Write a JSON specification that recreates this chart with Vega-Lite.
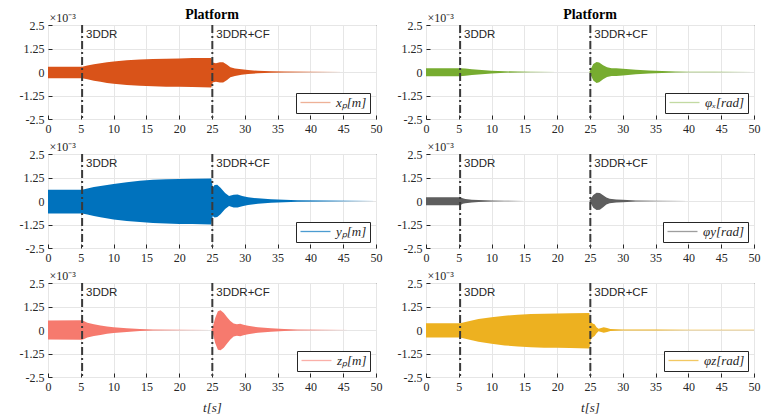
{
  "$schema": "https://vega.github.io/schema/vega-lite/v6.json",
  "background": "white",
  "padding": {"left": 18, "top": 7, "right": 5, "bottom": 0},
  "bounds": "flush",
  "columns": 2,
  "spacing": {"row": 35, "column": 50},
  "resolve": {"scale": {"color": "independent"}, "legend": {"color": "independent"}},
  "datasets": {
    "env": [
      {"p": "xp", "t": 0, "hi": 0.28, "lo": -0.33},
      {"p": "xp", "t": 5.2, "hi": 0.28, "lo": -0.33},
      {"p": "xp", "t": 6, "hi": 0.34, "lo": -0.39},
      {"p": "xp", "t": 7, "hi": 0.41, "lo": -0.46},
      {"p": "xp", "t": 8, "hi": 0.47, "lo": -0.52},
      {"p": "xp", "t": 9, "hi": 0.52, "lo": -0.58},
      {"p": "xp", "t": 10, "hi": 0.56, "lo": -0.62},
      {"p": "xp", "t": 12, "hi": 0.62, "lo": -0.69},
      {"p": "xp", "t": 14, "hi": 0.66, "lo": -0.73},
      {"p": "xp", "t": 16, "hi": 0.69, "lo": -0.76},
      {"p": "xp", "t": 18, "hi": 0.71, "lo": -0.78},
      {"p": "xp", "t": 20, "hi": 0.72, "lo": -0.79},
      {"p": "xp", "t": 22, "hi": 0.74, "lo": -0.8},
      {"p": "xp", "t": 24.9, "hi": 0.75, "lo": -0.82},
      {"p": "xp", "t": 25.1, "hi": 0.5, "lo": -0.56},
      {"p": "xp", "t": 25.6, "hi": 0.47, "lo": -0.52},
      {"p": "xp", "t": 26.2, "hi": 0.52, "lo": -0.56},
      {"p": "xp", "t": 26.7, "hi": 0.52, "lo": -0.56},
      {"p": "xp", "t": 27.3, "hi": 0.38, "lo": -0.42},
      {"p": "xp", "t": 27.8, "hi": 0.25, "lo": -0.28},
      {"p": "xp", "t": 28.5, "hi": 0.19, "lo": -0.21},
      {"p": "xp", "t": 29.5, "hi": 0.14, "lo": -0.15},
      {"p": "xp", "t": 30.5, "hi": 0.1, "lo": -0.11},
      {"p": "xp", "t": 32, "hi": 0.065, "lo": -0.07},
      {"p": "xp", "t": 34, "hi": 0.035, "lo": -0.04},
      {"p": "xp", "t": 36, "hi": 0.02, "lo": -0.022},
      {"p": "xp", "t": 40, "hi": 0.01, "lo": -0.01},
      {"p": "xp", "t": 45, "hi": 0.005, "lo": -0.005},
      {"p": "xp", "t": 50, "hi": 0.003, "lo": -0.003},

      {"p": "yp", "t": 0, "hi": 0.6, "lo": -0.66},
      {"p": "yp", "t": 5.2, "hi": 0.6, "lo": -0.66},
      {"p": "yp", "t": 6, "hi": 0.66, "lo": -0.72},
      {"p": "yp", "t": 7, "hi": 0.74, "lo": -0.8},
      {"p": "yp", "t": 8, "hi": 0.8, "lo": -0.87},
      {"p": "yp", "t": 10, "hi": 0.9, "lo": -0.98},
      {"p": "yp", "t": 12, "hi": 1.0, "lo": -1.06},
      {"p": "yp", "t": 14, "hi": 1.08, "lo": -1.12},
      {"p": "yp", "t": 16, "hi": 1.13, "lo": -1.17},
      {"p": "yp", "t": 18, "hi": 1.16, "lo": -1.2},
      {"p": "yp", "t": 20, "hi": 1.17, "lo": -1.22},
      {"p": "yp", "t": 22, "hi": 1.19, "lo": -1.23},
      {"p": "yp", "t": 24.9, "hi": 1.2, "lo": -1.25},
      {"p": "yp", "t": 25.1, "hi": 0.7, "lo": -0.8},
      {"p": "yp", "t": 25.4, "hi": 0.85, "lo": -0.88},
      {"p": "yp", "t": 25.8, "hi": 0.86, "lo": -0.85},
      {"p": "yp", "t": 26.3, "hi": 0.7, "lo": -0.7},
      {"p": "yp", "t": 27, "hi": 0.42, "lo": -0.42},
      {"p": "yp", "t": 27.6, "hi": 0.26, "lo": -0.27},
      {"p": "yp", "t": 28.3, "hi": 0.33, "lo": -0.34},
      {"p": "yp", "t": 28.9, "hi": 0.35, "lo": -0.35},
      {"p": "yp", "t": 29.6, "hi": 0.27, "lo": -0.28},
      {"p": "yp", "t": 30.5, "hi": 0.2, "lo": -0.21},
      {"p": "yp", "t": 32, "hi": 0.14, "lo": -0.15},
      {"p": "yp", "t": 34, "hi": 0.09, "lo": -0.09},
      {"p": "yp", "t": 36, "hi": 0.06, "lo": -0.06},
      {"p": "yp", "t": 38, "hi": 0.04, "lo": -0.04},
      {"p": "yp", "t": 42, "hi": 0.02, "lo": -0.02},
      {"p": "yp", "t": 46, "hi": 0.01, "lo": -0.01},
      {"p": "yp", "t": 50, "hi": 0.005, "lo": -0.005},

      {"p": "zp", "t": 0, "hi": 0.5, "lo": -0.5},
      {"p": "zp", "t": 5.2, "hi": 0.52, "lo": -0.52},
      {"p": "zp", "t": 5.6, "hi": 0.45, "lo": -0.46},
      {"p": "zp", "t": 6, "hi": 0.38, "lo": -0.4},
      {"p": "zp", "t": 7, "hi": 0.3, "lo": -0.32},
      {"p": "zp", "t": 8, "hi": 0.24, "lo": -0.26},
      {"p": "zp", "t": 9, "hi": 0.19, "lo": -0.2},
      {"p": "zp", "t": 10, "hi": 0.15, "lo": -0.16},
      {"p": "zp", "t": 12, "hi": 0.09, "lo": -0.1},
      {"p": "zp", "t": 14, "hi": 0.05, "lo": -0.055},
      {"p": "zp", "t": 16, "hi": 0.03, "lo": -0.03},
      {"p": "zp", "t": 20, "hi": 0.012, "lo": -0.012},
      {"p": "zp", "t": 24.9, "hi": 0.005, "lo": -0.005},
      {"p": "zp", "t": 25.1, "hi": 0.15, "lo": -0.15},
      {"p": "zp", "t": 25.5, "hi": 0.65, "lo": -0.7},
      {"p": "zp", "t": 25.9, "hi": 1.0, "lo": -1.05},
      {"p": "zp", "t": 26.3, "hi": 1.05, "lo": -1.08},
      {"p": "zp", "t": 26.8, "hi": 0.9, "lo": -0.95},
      {"p": "zp", "t": 27.3, "hi": 0.68, "lo": -0.72},
      {"p": "zp", "t": 27.8, "hi": 0.48, "lo": -0.5},
      {"p": "zp", "t": 28.3, "hi": 0.34, "lo": -0.35},
      {"p": "zp", "t": 28.8, "hi": 0.3, "lo": -0.3},
      {"p": "zp", "t": 29.3, "hi": 0.33, "lo": -0.33},
      {"p": "zp", "t": 29.8, "hi": 0.28, "lo": -0.28},
      {"p": "zp", "t": 30.5, "hi": 0.22, "lo": -0.22},
      {"p": "zp", "t": 32, "hi": 0.15, "lo": -0.15},
      {"p": "zp", "t": 34, "hi": 0.09, "lo": -0.09},
      {"p": "zp", "t": 36, "hi": 0.05, "lo": -0.05},
      {"p": "zp", "t": 38, "hi": 0.03, "lo": -0.03},
      {"p": "zp", "t": 42, "hi": 0.012, "lo": -0.012},
      {"p": "zp", "t": 46, "hi": 0.006, "lo": -0.006},
      {"p": "zp", "t": 50, "hi": 0.003, "lo": -0.003},

      {"p": "phx", "t": 0, "hi": 0.2, "lo": -0.22},
      {"p": "phx", "t": 5.2, "hi": 0.2, "lo": -0.22},
      {"p": "phx", "t": 6, "hi": 0.18, "lo": -0.2},
      {"p": "phx", "t": 7, "hi": 0.15, "lo": -0.16},
      {"p": "phx", "t": 8, "hi": 0.12, "lo": -0.13},
      {"p": "phx", "t": 10, "hi": 0.07, "lo": -0.075},
      {"p": "phx", "t": 12, "hi": 0.04, "lo": -0.04},
      {"p": "phx", "t": 14, "hi": 0.02, "lo": -0.02},
      {"p": "phx", "t": 16, "hi": 0.01, "lo": -0.01},
      {"p": "phx", "t": 20, "hi": 0.004, "lo": -0.004},
      {"p": "phx", "t": 24.9, "hi": 0.002, "lo": -0.002},
      {"p": "phx", "t": 25.1, "hi": 0.15, "lo": -0.15},
      {"p": "phx", "t": 25.5, "hi": 0.42, "lo": -0.45},
      {"p": "phx", "t": 26, "hi": 0.53, "lo": -0.58},
      {"p": "phx", "t": 26.4, "hi": 0.5, "lo": -0.55},
      {"p": "phx", "t": 27, "hi": 0.36, "lo": -0.38},
      {"p": "phx", "t": 27.6, "hi": 0.25, "lo": -0.27},
      {"p": "phx", "t": 28.3, "hi": 0.2, "lo": -0.21},
      {"p": "phx", "t": 29, "hi": 0.2, "lo": -0.21},
      {"p": "phx", "t": 30, "hi": 0.17, "lo": -0.18},
      {"p": "phx", "t": 32, "hi": 0.12, "lo": -0.12},
      {"p": "phx", "t": 34, "hi": 0.08, "lo": -0.08},
      {"p": "phx", "t": 36, "hi": 0.05, "lo": -0.05},
      {"p": "phx", "t": 38, "hi": 0.03, "lo": -0.03},
      {"p": "phx", "t": 40, "hi": 0.018, "lo": -0.018},
      {"p": "phx", "t": 44, "hi": 0.008, "lo": -0.008},
      {"p": "phx", "t": 50, "hi": 0.003, "lo": -0.003},

      {"p": "phy", "t": 0, "hi": 0.2, "lo": -0.22},
      {"p": "phy", "t": 5.2, "hi": 0.2, "lo": -0.22},
      {"p": "phy", "t": 5.6, "hi": 0.14, "lo": -0.15},
      {"p": "phy", "t": 6, "hi": 0.11, "lo": -0.12},
      {"p": "phy", "t": 7, "hi": 0.07, "lo": -0.08},
      {"p": "phy", "t": 8, "hi": 0.05, "lo": -0.055},
      {"p": "phy", "t": 10, "hi": 0.03, "lo": -0.03},
      {"p": "phy", "t": 12, "hi": 0.015, "lo": -0.015},
      {"p": "phy", "t": 15, "hi": 0.006, "lo": -0.006},
      {"p": "phy", "t": 20, "hi": 0.002, "lo": -0.002},
      {"p": "phy", "t": 24.9, "hi": 0.001, "lo": -0.001},
      {"p": "phy", "t": 25.1, "hi": 0.1, "lo": -0.1},
      {"p": "phy", "t": 25.5, "hi": 0.32, "lo": -0.36},
      {"p": "phy", "t": 26, "hi": 0.44, "lo": -0.48},
      {"p": "phy", "t": 26.5, "hi": 0.42, "lo": -0.46},
      {"p": "phy", "t": 27, "hi": 0.3, "lo": -0.33},
      {"p": "phy", "t": 27.5, "hi": 0.18, "lo": -0.19},
      {"p": "phy", "t": 28, "hi": 0.12, "lo": -0.12},
      {"p": "phy", "t": 29, "hi": 0.08, "lo": -0.08},
      {"p": "phy", "t": 30, "hi": 0.06, "lo": -0.06},
      {"p": "phy", "t": 32, "hi": 0.03, "lo": -0.03},
      {"p": "phy", "t": 35, "hi": 0.012, "lo": -0.012},
      {"p": "phy", "t": 40, "hi": 0.004, "lo": -0.004},
      {"p": "phy", "t": 50, "hi": 0.001, "lo": -0.001},

      {"p": "phz", "t": 0, "hi": 0.36, "lo": -0.4},
      {"p": "phz", "t": 5.2, "hi": 0.36, "lo": -0.4},
      {"p": "phz", "t": 6, "hi": 0.43, "lo": -0.47},
      {"p": "phz", "t": 7, "hi": 0.51, "lo": -0.55},
      {"p": "phz", "t": 8, "hi": 0.58, "lo": -0.62},
      {"p": "phz", "t": 10, "hi": 0.68, "lo": -0.73},
      {"p": "phz", "t": 12, "hi": 0.76, "lo": -0.82},
      {"p": "phz", "t": 14, "hi": 0.81, "lo": -0.88},
      {"p": "phz", "t": 16, "hi": 0.85, "lo": -0.92},
      {"p": "phz", "t": 18, "hi": 0.87, "lo": -0.94},
      {"p": "phz", "t": 20, "hi": 0.88, "lo": -0.95},
      {"p": "phz", "t": 22, "hi": 0.89, "lo": -0.96},
      {"p": "phz", "t": 24.9, "hi": 0.91, "lo": -0.98},
      {"p": "phz", "t": 25.1, "hi": 0.45, "lo": -0.5},
      {"p": "phz", "t": 25.4, "hi": 0.35, "lo": -0.38},
      {"p": "phz", "t": 25.7, "hi": 0.3, "lo": -0.32},
      {"p": "phz", "t": 26.0, "hi": 0.15, "lo": -0.17},
      {"p": "phz", "t": 26.3, "hi": 0.06, "lo": -0.06},
      {"p": "phz", "t": 26.7, "hi": 0.1, "lo": -0.1},
      {"p": "phz", "t": 27.1, "hi": 0.15, "lo": -0.15},
      {"p": "phz", "t": 27.6, "hi": 0.1, "lo": -0.1},
      {"p": "phz", "t": 28.1, "hi": 0.05, "lo": -0.05},
      {"p": "phz", "t": 29, "hi": 0.035, "lo": -0.035},
      {"p": "phz", "t": 30, "hi": 0.03, "lo": -0.03},
      {"p": "phz", "t": 35, "hi": 0.02, "lo": -0.02},
      {"p": "phz", "t": 40, "hi": 0.015, "lo": -0.015},
      {"p": "phz", "t": 50, "hi": 0.01, "lo": -0.01}
    ],
    "ev": [
      {"t": 5.2, "top": 2.5, "lab": "3DDR"},
      {"t": 25.05, "top": 2.5, "lab": "3DDR+CF"}
    ]
  },
  "concat": [
    {
      "width": 328, "height": 94,
      "title": {"text": "Platform"},
      "encoding": {
        "x": {"field": "t", "type": "quantitative", "scale": {"domain": [0, 50], "nice": false}, "axis": {"title": null, "labelOverlap": false, "tickCount": 20, "values": [0, 5, 10, 15, 20, 25, 30, 35, 40, 45, 50]}}
      },
      "layer": [
        {"data": {"name": "env"}, "transform": [{"filter": "datum.p == 'xp'"}],
         "mark": {"type": "area", "interpolate": "linear"},
         "encoding": {
           "y": {"field": "hi", "type": "quantitative", "scale": {"domain": [-2.5, 2.5], "nice": false}, "axis": {"labelOverlap": false, "tickCount": 10, "values": [-2.5, -1.25, 0, 1.25, 2.5], "labelExpr": "datum.value == 0 ? '0' : (datum.value < 0 ? '-' : '') + format(abs(datum.value), '.3~g')", "title": "×10⁻³", "titleAngle": 0, "titleAlign": "left", "titleBaseline": "bottom", "titleX": 1, "titleY": -1, "titleFontSize": 12}},
           "y2": {"field": "lo"},
           "color": {"field": "p", "type": "nominal", "scale": {"range": ["#D95319"]},
             "legend": {"labelExpr": "'xₚ[m]'", "encode": {"symbols": {"update": {"stroke": {"value": "#D95319"}, "fill": {"value": "transparent"}, "strokeOpacity": {"value": 0.45}}}}}}
         }},
        {"data": {"name": "ev"}, "mark": {"type": "rule", "color": "#3a3a3a", "strokeWidth": 2, "strokeDash": [8, 3, 2, 3]}, "encoding": {}},
        {"data": {"name": "ev"}, "mark": {"type": "text", "font": "Liberation Sans", "fontSize": 11.5, "color": "#262626", "align": "left", "baseline": "top", "dx": 4, "dy": 4},
         "encoding": {"y": {"field": "top", "type": "quantitative"}, "text": {"field": "lab"}}}
      ]
    },
    {
      "width": 328, "height": 94,
      "title": {"text": "Platform"},
      "encoding": {
        "x": {"field": "t", "type": "quantitative", "scale": {"domain": [0, 50], "nice": false}, "axis": {"title": null, "labelOverlap": false, "tickCount": 20, "values": [0, 5, 10, 15, 20, 25, 30, 35, 40, 45, 50]}}
      },
      "layer": [
        {"data": {"name": "env"}, "transform": [{"filter": "datum.p == 'phx'"}],
         "mark": {"type": "area", "interpolate": "linear"},
         "encoding": {
           "y": {"field": "hi", "type": "quantitative", "scale": {"domain": [-2.5, 2.5], "nice": false}, "axis": {"labelOverlap": false, "tickCount": 10, "values": [-2.5, -1.25, 0, 1.25, 2.5], "labelExpr": "datum.value == 0 ? '0' : (datum.value < 0 ? '-' : '') + format(abs(datum.value), '.3~g')", "title": "×10⁻³", "titleAngle": 0, "titleAlign": "left", "titleBaseline": "bottom", "titleX": 1, "titleY": -1, "titleFontSize": 12}},
           "y2": {"field": "lo"},
           "color": {"field": "p", "type": "nominal", "scale": {"range": ["#77AC30"]},
             "legend": {"labelExpr": "'φₓ[rad]'", "encode": {"symbols": {"update": {"stroke": {"value": "#77AC30"}, "fill": {"value": "transparent"}, "strokeOpacity": {"value": 0.45}}}}}}
         }},
        {"data": {"name": "ev"}, "mark": {"type": "rule", "color": "#3a3a3a", "strokeWidth": 2, "strokeDash": [8, 3, 2, 3]}, "encoding": {}},
        {"data": {"name": "ev"}, "mark": {"type": "text", "font": "Liberation Sans", "fontSize": 11.5, "color": "#262626", "align": "left", "baseline": "top", "dx": 4, "dy": 4},
         "encoding": {"y": {"field": "top", "type": "quantitative"}, "text": {"field": "lab"}}}
      ]
    },
    {
      "width": 328, "height": 94,
      "encoding": {
        "x": {"field": "t", "type": "quantitative", "scale": {"domain": [0, 50], "nice": false}, "axis": {"title": null, "labelOverlap": false, "tickCount": 20, "values": [0, 5, 10, 15, 20, 25, 30, 35, 40, 45, 50]}}
      },
      "layer": [
        {"data": {"name": "env"}, "transform": [{"filter": "datum.p == 'yp'"}],
         "mark": {"type": "area", "interpolate": "linear"},
         "encoding": {
           "y": {"field": "hi", "type": "quantitative", "scale": {"domain": [-2.5, 2.5], "nice": false}, "axis": {"labelOverlap": false, "tickCount": 10, "values": [-2.5, -1.25, 0, 1.25, 2.5], "labelExpr": "datum.value == 0 ? '0' : (datum.value < 0 ? '-' : '') + format(abs(datum.value), '.3~g')", "title": "×10⁻³", "titleAngle": 0, "titleAlign": "left", "titleBaseline": "bottom", "titleX": 1, "titleY": -1, "titleFontSize": 12}},
           "y2": {"field": "lo"},
           "color": {"field": "p", "type": "nominal", "scale": {"range": ["#0072BD"]},
             "legend": {"labelExpr": "'yₚ[m]'", "encode": {"symbols": {"update": {"stroke": {"value": "#0072BD"}, "fill": {"value": "transparent"}, "strokeOpacity": {"value": 0.7}}}}}}
         }},
        {"data": {"name": "ev"}, "mark": {"type": "rule", "color": "#3a3a3a", "strokeWidth": 2, "strokeDash": [8, 3, 2, 3]}, "encoding": {}},
        {"data": {"name": "ev"}, "mark": {"type": "text", "font": "Liberation Sans", "fontSize": 11.5, "color": "#262626", "align": "left", "baseline": "top", "dx": 4, "dy": 4},
         "encoding": {"y": {"field": "top", "type": "quantitative"}, "text": {"field": "lab"}}}
      ]
    },
    {
      "width": 328, "height": 94,
      "encoding": {
        "x": {"field": "t", "type": "quantitative", "scale": {"domain": [0, 50], "nice": false}, "axis": {"title": null, "labelOverlap": false, "tickCount": 20, "values": [0, 5, 10, 15, 20, 25, 30, 35, 40, 45, 50]}}
      },
      "layer": [
        {"data": {"name": "env"}, "transform": [{"filter": "datum.p == 'phy'"}],
         "mark": {"type": "area", "interpolate": "linear"},
         "encoding": {
           "y": {"field": "hi", "type": "quantitative", "scale": {"domain": [-2.5, 2.5], "nice": false}, "axis": {"labelOverlap": false, "tickCount": 10, "values": [-2.5, -1.25, 0, 1.25, 2.5], "labelExpr": "datum.value == 0 ? '0' : (datum.value < 0 ? '-' : '') + format(abs(datum.value), '.3~g')", "title": "×10⁻³", "titleAngle": 0, "titleAlign": "left", "titleBaseline": "bottom", "titleX": 1, "titleY": -1, "titleFontSize": 12}},
           "y2": {"field": "lo"},
           "color": {"field": "p", "type": "nominal", "scale": {"range": ["#5E5E5E"]},
             "legend": {"labelExpr": "'φy[rad]'", "encode": {"symbols": {"update": {"stroke": {"value": "#5E5E5E"}, "fill": {"value": "transparent"}, "strokeOpacity": {"value": 0.6}}}}}}
         }},
        {"data": {"name": "ev"}, "mark": {"type": "rule", "color": "#3a3a3a", "strokeWidth": 2, "strokeDash": [8, 3, 2, 3]}, "encoding": {}},
        {"data": {"name": "ev"}, "mark": {"type": "text", "font": "Liberation Sans", "fontSize": 11.5, "color": "#262626", "align": "left", "baseline": "top", "dx": 4, "dy": 4},
         "encoding": {"y": {"field": "top", "type": "quantitative"}, "text": {"field": "lab"}}}
      ]
    },
    {
      "width": 328, "height": 94,
      "encoding": {
        "x": {"field": "t", "type": "quantitative", "scale": {"domain": [0, 50], "nice": false}, "axis": {"title": "t[s]", "labelOverlap": false, "tickCount": 20, "values": [0, 5, 10, 15, 20, 25, 30, 35, 40, 45, 50]}}
      },
      "layer": [
        {"data": {"name": "env"}, "transform": [{"filter": "datum.p == 'zp'"}],
         "mark": {"type": "area", "interpolate": "linear"},
         "encoding": {
           "y": {"field": "hi", "type": "quantitative", "scale": {"domain": [-2.5, 2.5], "nice": false}, "axis": {"labelOverlap": false, "tickCount": 10, "values": [-2.5, -1.25, 0, 1.25, 2.5], "labelExpr": "datum.value == 0 ? '0' : (datum.value < 0 ? '-' : '') + format(abs(datum.value), '.3~g')", "title": "×10⁻³", "titleAngle": 0, "titleAlign": "left", "titleBaseline": "bottom", "titleX": 1, "titleY": -1, "titleFontSize": 12}},
           "y2": {"field": "lo"},
           "color": {"field": "p", "type": "nominal", "scale": {"range": ["#F67A6E"]},
             "legend": {"labelExpr": "'zₚ[m]'", "encode": {"symbols": {"update": {"stroke": {"value": "#F67A6E"}, "fill": {"value": "transparent"}, "strokeOpacity": {"value": 0.6}}}}}}
         }},
        {"data": {"name": "ev"}, "mark": {"type": "rule", "color": "#3a3a3a", "strokeWidth": 2, "strokeDash": [8, 3, 2, 3]}, "encoding": {}},
        {"data": {"name": "ev"}, "mark": {"type": "text", "font": "Liberation Sans", "fontSize": 11.5, "color": "#262626", "align": "left", "baseline": "top", "dx": 4, "dy": 4},
         "encoding": {"y": {"field": "top", "type": "quantitative"}, "text": {"field": "lab"}}}
      ]
    },
    {
      "width": 328, "height": 94,
      "encoding": {
        "x": {"field": "t", "type": "quantitative", "scale": {"domain": [0, 50], "nice": false}, "axis": {"title": "t[s]", "labelOverlap": false, "tickCount": 20, "values": [0, 5, 10, 15, 20, 25, 30, 35, 40, 45, 50]}}
      },
      "layer": [
        {"data": {"name": "env"}, "transform": [{"filter": "datum.p == 'phz'"}],
         "mark": {"type": "area", "interpolate": "linear"},
         "encoding": {
           "y": {"field": "hi", "type": "quantitative", "scale": {"domain": [-2.5, 2.5], "nice": false}, "axis": {"labelOverlap": false, "tickCount": 10, "values": [-2.5, -1.25, 0, 1.25, 2.5], "labelExpr": "datum.value == 0 ? '0' : (datum.value < 0 ? '-' : '') + format(abs(datum.value), '.3~g')", "title": "×10⁻³", "titleAngle": 0, "titleAlign": "left", "titleBaseline": "bottom", "titleX": 1, "titleY": -1, "titleFontSize": 12}},
           "y2": {"field": "lo"},
           "color": {"field": "p", "type": "nominal", "scale": {"range": ["#EDB120"]},
             "legend": {"labelExpr": "'φz[rad]'", "encode": {"symbols": {"update": {"stroke": {"value": "#EDB120"}, "fill": {"value": "transparent"}, "strokeOpacity": {"value": 0.7}}}}}}
         }},
        {"data": {"name": "ev"}, "mark": {"type": "rule", "color": "#3a3a3a", "strokeWidth": 2, "strokeDash": [8, 3, 2, 3]}, "encoding": {}},
        {"data": {"name": "ev"}, "mark": {"type": "text", "font": "Liberation Sans", "fontSize": 11.5, "color": "#262626", "align": "left", "baseline": "top", "dx": 4, "dy": 4},
         "encoding": {"y": {"field": "top", "type": "quantitative"}, "text": {"field": "lab"}}}
      ]
    }
  ],
  "config": {
    "view": {"stroke": "#262626", "strokeWidth": 1},
    "font": "Liberation Serif",
    "title": {"font": "Liberation Serif", "fontSize": 14, "fontWeight": "bold", "color": "#000000", "anchor": "middle", "offset": -11, "frame": "group"},
    "axis": {
      "labelFont": "Liberation Serif", "labelFontSize": 12, "labelColor": "#262626", "labelOverlap": false,
      "titleFont": "Liberation Serif", "titleFontSize": 13, "titleFontWeight": "normal", "titleColor": "#262626",
      "grid": true, "gridColor": "#e6e6e6", "gridWidth": 1,
      "domain": false, "ticks": true, "tickColor": "#262626", "tickSize": -4, "labelPadding": 8
    },
    "axisX": {"titleFontStyle": "italic", "titlePadding": 9, "labelFlush": false},
    "legend": {
      "orient": "bottom-right", "offset": 6, "title": null,
      "strokeColor": "#262626", "fillColor": "white", "padding": 3, "cornerRadius": 0,
      "symbolType": "M-1,0H5", "symbolSize": 100, "symbolStrokeWidth": 1.3,
      "labelFont": "Liberation Serif", "labelFontStyle": "italic", "labelFontSize": 13, "labelColor": "#262626", "labelOffset": 24
    }
  }
}
